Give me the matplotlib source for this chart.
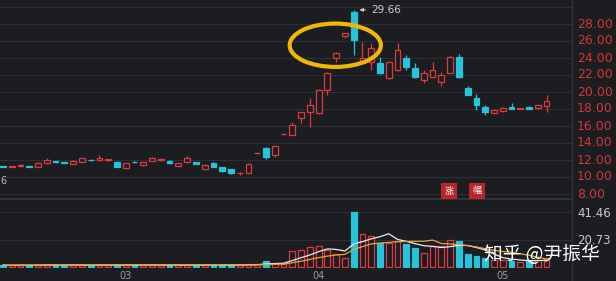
import matplotlib
matplotlib.use("Agg")
import matplotlib.pyplot as plt
from matplotlib.patches import Ellipse
import numpy as np
import pandas as pd

plt.rcParams['font.family'] = ['DejaVu Sans', 'Noto Sans CJK SC']

# daily candles (Feb - May)
opens = [11.30, 11.16, 11.32, 11.24, 11.22, 11.62, 11.82, 11.72, 11.55, 11.80,
         12.02, 11.98, 12.00, 11.76, 11.06, 11.78, 11.40, 11.90, 12.00, 11.88,
         11.30, 11.76, 11.76, 10.94, 11.65, 11.18, 10.94, 10.45, 10.47, 12.80,
         13.40, 12.60, 15.04, 14.94, 16.94, 17.65, 17.53, 20.24, 24.00, 26.60,
         29.41, 23.41, 23.53, 23.41, 21.65, 22.59, 24.00, 22.82, 21.41, 21.76,
         21.18, 22.24, 24.12, 20.47, 19.29, 18.24, 17.53, 17.76, 18.24, 18.02,
         18.24, 18.12, 18.35]
closes = [11.18, 11.24, 11.34, 11.18, 11.68, 12.00, 11.78, 11.68, 11.92, 12.20,
          11.98, 12.22, 12.02, 11.18, 11.65, 11.75, 11.76, 12.24, 12.02, 11.62,
          11.65, 12.24, 11.53, 11.41, 11.18, 10.72, 10.47, 10.48, 11.53, 12.84,
          12.35, 13.65, 15.08, 16.12, 17.65, 18.47, 20.24, 22.24, 24.60, 26.94,
          26.12, 24.00, 25.18, 22.24, 23.53, 24.94, 22.94, 21.76, 22.24, 22.59,
          22.00, 24.12, 21.76, 19.65, 18.47, 17.65, 17.88, 18.12, 18.00, 18.04,
          18.00, 18.47, 18.94]
highs = [11.35, 11.28, 11.50, 11.28, 11.72, 12.25, 11.92, 11.80, 11.98, 12.25,
         12.10, 12.55, 12.10, 11.80, 11.70, 11.88, 11.82, 12.30, 12.20, 11.95,
         11.70, 12.45, 11.80, 11.50, 11.75, 11.22, 11.00, 10.55, 11.60, 12.90,
         13.50, 13.70, 15.10, 16.47, 17.70, 19.30, 20.30, 22.30, 24.65, 27.00,
         29.66, 25.88, 25.76, 24.12, 23.60, 25.76, 24.35, 23.41, 22.59, 23.53,
         22.40, 24.20, 24.47, 20.71, 19.76, 18.47, 17.95, 18.20, 18.70, 18.10,
         18.30, 18.55, 19.65]
lows = [11.12, 11.12, 11.20, 11.12, 11.18, 11.58, 11.70, 11.62, 11.50, 11.75,
        11.88, 11.90, 11.92, 11.12, 11.00, 11.68, 11.35, 11.85, 11.92, 11.58,
        11.25, 11.70, 11.48, 10.85, 11.12, 10.62, 10.40, 10.25, 10.42, 12.75,
        12.10, 12.40, 15.00, 14.90, 16.35, 15.90, 17.40, 19.65, 23.50, 26.35,
        24.35, 23.30, 22.59, 22.10, 21.55, 22.50, 22.59, 21.65, 21.06, 21.70,
        20.70, 22.20, 21.70, 19.60, 17.88, 17.29, 17.45, 17.70, 17.95, 17.98,
        17.95, 18.05, 17.65]
volumes = [1.4, 1.2, 1.5, 1.3, 1.6, 1.8, 1.3, 1.2, 1.5, 1.7,
           1.3, 1.6, 1.2, 1.8, 1.6, 1.2, 1.4, 1.7, 1.3, 1.5,
           1.4, 1.6, 1.3, 1.5, 1.4, 1.6, 1.7, 1.2, 2.0, 2.0,
           4.5, 3.0, 2.5, 12.0, 13.0, 14.8, 15.6, 13.0, 10.0, 7.0,
           41.46, 24.6, 23.3, 18.2, 18.2, 20.0, 17.4, 14.4, 10.5, 15.6,
           15.6, 20.8, 19.5, 9.7, 8.0, 6.7, 5.4, 5.4, 4.6, 4.1,
           4.6, 5.4, 6.7]
month_labels = ["03", "04", "05"]
month_pos = [14, 36, 57]
price_ticks = [28, 26, 24, 22, 20, 18, 16, 14, 12, 10, 8]
vol_ticks = [41.46, 20.73]

BG = "#1b1d21"
GRID = "#2c2f35"
RED = "#e0393e"
CYAN = "#25c4d8"

W, H = 616, 281
fig = plt.figure(figsize=(W / 100, H / 100), dpi=100, facecolor=BG)

ax = fig.add_axes([0, 1 - 199 / H, 572 / W, 199 / H], facecolor=BG)
axv = fig.add_axes([0, 1 - 268 / H, 572 / W, 69 / H], facecolor=BG)

n = len(opens)
x = np.arange(n)
o = np.array(opens); c = np.array(closes)
hi = np.array(highs); lo = np.array(lows)
up = c >= o
cols = np.where(up, RED, CYAN)

for a in (ax, axv):
    a.set_xlim(-0.34, 64.9)
    for s in a.spines.values():
        s.set_visible(False)
    a.set_xticks([]); a.set_yticks([])

# 8.5 px per yuan, 8.00 sits at y=194 px
ax.set_ylim(8 - 5 / 8.5, 8 + 194 / 8.5)
for p in range(8, 31, 2):
    ax.axhline(p, color=GRID, lw=0.8, zorder=0)

# candles
ax.vlines(x, lo, hi, colors=cols, lw=0.9, zorder=2)
bottoms = np.minimum(o, c)
heights = np.maximum(np.abs(c - o), 0.06)
ax.bar(x, heights, bottom=bottoms, width=0.66,
       facecolor=np.where(up, BG, CYAN), edgecolor=cols, lw=0.9, zorder=3)

# highest point annotation
imax = int(np.argmax(hi))
ax.annotate(f"{hi[imax]:.2f}", xy=(imax + 0.35, hi[imax]), xytext=(imax + 2.0, hi[imax]),
            color="#cfcfcf", fontsize=7.5, va="center",
            arrowprops=dict(arrowstyle="-|>", color="#cfcfcf", lw=0.7, mutation_scale=5))

ax.add_patch(Ellipse((37.9, 25.5), 10.4, 5.1, fill=False, edgecolor="#f2b705", lw=3, zorder=5))

# volume
axv.set_ylim(-0.8, 51.5)
for v in vol_ticks:
    axv.axhline(v, color=GRID, lw=0.8, zorder=0)
axv.bar(x, volumes, width=0.66, facecolor=np.where(up, BG, CYAN), edgecolor=cols, lw=0.9, zorder=2)
vs = pd.Series(volumes)
axv.plot(x, vs.rolling(5, min_periods=1).mean(), color="#ececec", lw=0.9, zorder=4)
axv.plot(x, vs.rolling(10, min_periods=1).mean(), color="#e8a33c", lw=0.9, zorder=4)

for lab, pos in zip(month_labels, month_pos):
    axv.text(pos, -3.0, lab, color="#9a9a9a", fontsize=7, ha="center", va="top", clip_on=False)

# separators
fig.add_artist(plt.Line2D([572 / W, 572 / W], [0, 1], color="#2f3238", lw=1))
fig.add_artist(plt.Line2D([0, 572 / W], [1 - 199 / H, 1 - 199 / H], color="#2f3238", lw=1.5))

# right axis labels
for p in price_ticks:
    ypx = 194 - (p - 8) * 8.5
    fig.text(577 / W, 1 - ypx / H, f"{p:.2f}", color="#d0383a", fontsize=9, ha="left", va="center")
for v in vol_ticks:
    ypx = 267 - v * 1.3
    fig.text(577 / W, 1 - ypx / H, f"{v:.2f}", color="#c8c8c8", fontsize=8.5, ha="left", va="center")

fig.text(0, 1 - 181 / H, "6", color="#bbbbbb", fontsize=7, ha="left", va="center")

for xc, t in [(449, "涨"), (477, "幅")]:
    fig.text(xc / W, 1 - 191 / H, t, color="white", fontsize=6.5, ha="center", va="center",
             family=["Noto Sans CJK SC"],
             bbox=dict(boxstyle="square,pad=0.35", facecolor="#b8262c", edgecolor="none"))

fig.text(484 / W, 1 - 254 / H, "知乎 @尹振华", color="white", fontsize=13.5, ha="left", va="center",
         family=["Noto Sans CJK SC", "DejaVu Sans"])

fig.savefig("out.png", dpi=100, facecolor=BG)
